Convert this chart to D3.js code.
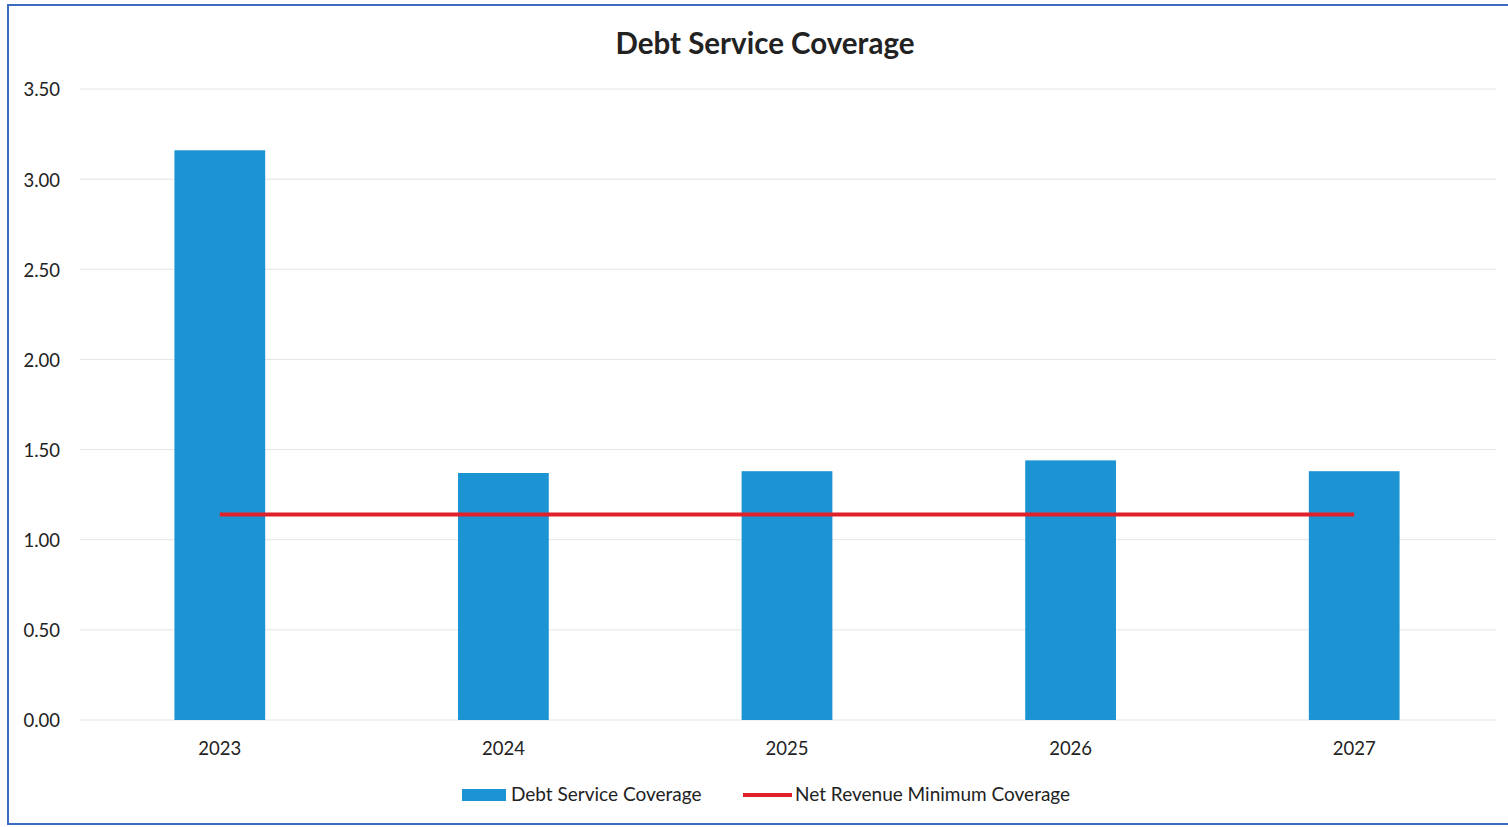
<!DOCTYPE html>
<html>
<head>
<meta charset="utf-8">
<script src="https://cdn.jsdelivr.net/npm/d3@7"></script>
<style>
body { margin: 0; background: #fff; }
svg { display: block; font-family: Lato, "Open Sans", sans-serif; }
</style>
</head>
<body>
<svg width="1508" height="827"></svg>
<script>
var years = ["2023", "2024", "2025", "2026", "2027"];
var coverage = [3.16, 1.37, 1.38, 1.44, 1.38];
var minCoverage = [1.14, 1.14, 1.14, 1.14, 1.14];
var yTicks = [0, 0.5, 1, 1.5, 2, 2.5, 3, 3.5];

var width = 1508, height = 827;
var margin = ({top: 90, right: 12, bottom: 107, left: 78});

var svg = d3.select("svg");

// frame
svg.append("rect").attr("x", 8).attr("y", 5)
  .attr("width", width + 4).attr("height", 819)
  .attr("fill", "none").attr("stroke", "#3b6cc2").attr("stroke-width", 2);

var x = d3.scaleBand()
  .domain(years)
  .range([margin.left, width - margin.right])
  .paddingInner(0.68).paddingOuter(0.34);

var y = d3.scaleLinear()
  .domain([0, 3.5])
  .range([720, 89]);

// grid
svg.append("g")
  .selectAll("line")
  .data(yTicks)
  .join("line")
  .attr("x1", margin.left + 2).attr("x2", width - margin.right)
  .attr("y1", d => y(d)).attr("y2", d => y(d))
  .attr("stroke", "#e4e4e4").attr("stroke-width", 1);

var yAxis = svg.append("g")
  .attr("transform", "translate(" + (margin.left - 18) + ",1)")
  .call(d3.axisLeft(y).tickValues(yTicks).tickFormat(d3.format(".2f")).tickSize(0).tickPadding(0));
yAxis.select(".domain").remove();
yAxis.selectAll("text").attr("font-size", 18.5).attr("fill", "#222").attr("font-family", "Lato, sans-serif");

var xAxis = svg.append("g")
  .attr("transform", "translate(0,739)")
  .call(d3.axisBottom(x).tickSize(0).tickPadding(3));
xAxis.select(".domain").remove();
xAxis.selectAll("text").attr("font-size", 18.5).attr("fill", "#222").attr("font-family", "Lato, sans-serif");

// bars
svg.append("g").attr("fill", "#1c94d4")
  .selectAll("rect")
  .data(coverage)
  .join("rect")
  .attr("x", (d, i) => x(years[i]))
  .attr("y", d => y(d))
  .attr("width", x.bandwidth())
  .attr("height", d => y(0) - y(d));

// minimum coverage line
var line = d3.line()
  .x((d, i) => x(years[i]) + x.bandwidth() / 2)
  .y(d => y(d));
svg.append("path").datum(minCoverage)
  .attr("d", line)
  .attr("fill", "none").attr("stroke", "#e0202b").attr("stroke-width", 4);

// title
svg.append("text").attr("x", 765).attr("y", 54)
  .attr("text-anchor", "middle").attr("font-size", 29.5).attr("font-weight", "bold")
  .attr("fill", "#222").text("Debt Service Coverage");

// legend
var lg = svg.append("g").attr("font-size", 19).attr("fill", "#222");
lg.append("rect").attr("x", 462).attr("y", 789).attr("width", 44).attr("height", 12).attr("fill", "#1c94d4");
lg.append("text").attr("x", 511).attr("y", 801).text("Debt Service Coverage");
lg.append("line").attr("x1", 743).attr("x2", 792).attr("y1", 795).attr("y2", 795)
  .attr("stroke", "#e0202b").attr("stroke-width", 4);
lg.append("text").attr("x", 795).attr("y", 801).text("Net Revenue Minimum Coverage");
</script>
</body>
</html>
